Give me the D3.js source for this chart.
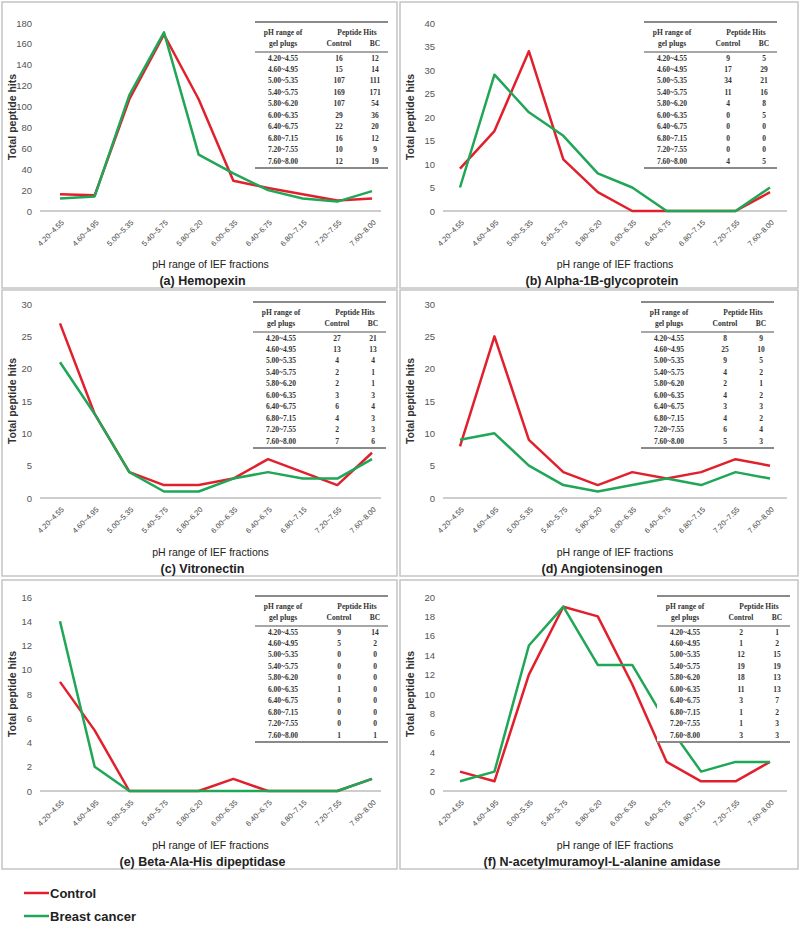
<!DOCTYPE html>
<html><head><meta charset="utf-8">
<script src="https://cdn.jsdelivr.net/npm/d3@7"></script>
<style>body{margin:0;background:#fff}svg{display:block}</style>
</head><body>
<svg id="c" width="800" height="925"></svg>
<script>
const fractions = ["4.20~4.55","4.60~4.95","5.00~5.35","5.40~5.75","5.80~6.20","6.00~6.35","6.40~6.75","6.80~7.15","7.20~7.55","7.60~8.00"];
const panelTitles = ["(a)  Hemopexin","(b)  Alpha-1B-glycoprotein","(c)  Vitronectin","(d)  Angiotensinogen","(e)  Beta-Ala-His dipeptidase","(f)  N-acetylmuramoyl-L-alanine amidase"];
const controlA = [16,15,107,169,107,29,22,16,10,12];
const bcA      = [12,14,111,171,54,36,20,12,9,19];
const controlB = [9,17,34,11,4,0,0,0,0,4];
const bcB      = [5,29,21,16,8,5,0,0,0,5];
const controlC = [27,13,4,2,2,3,6,4,2,7];
const bcC      = [21,13,4,1,1,3,4,3,3,6];
const controlD = [8,25,9,4,2,4,3,4,6,5];
const bcD      = [9,10,5,2,1,2,3,2,4,3];
const controlE = [9,5,0,0,0,1,0,0,0,1];
const bcE      = [14,2,0,0,0,0,0,0,0,1];
const controlF = [2,1,12,19,18,11,3,1,1,3];
const bcF      = [1,2,15,19,13,13,7,2,3,3];
const yMaxes  = [180,40,30,30,16,20];
const ySteps  = [20,5,5,5,2,2];
const seriesNames = ["Control","Breast cancer"];
const tableHeaders = ["pH range of","gel plugs","Peptide Hits","Control","BC"];
const yAxisTitle = "Total peptide hits";
const xAxisTitle = "pH range of IEF fractions";

const controls = [controlA,controlB,controlC,controlD,controlE,controlF];
const bcs = [bcA,bcB,bcC,bcD,bcE,bcF];
const RED = "#e1202d", GREEN = "#1fa657";

const rows = [
  {top:2, bottom:288, plotTop:23, plotBottom:211, tableTop:22},
  {top:290, bottom:576, plotTop:304, plotBottom:498, tableTop:302},
  {top:580, bottom:869, plotTop:597, plotBottom:791, tableTop:596}
];
const cols = [
  {left:2, right:397, axisL:40, axisR:381, p0:60, p1:372},
  {left:400, right:798, axisL:443, axisR:787, p0:460, p1:770}
];
const tableLefts = [255,644,253,641,255,657];

const svg = d3.select("#c");

for (let i = 0; i < 6; i++) {
  const r = rows[Math.floor(i/2)], c = cols[i%2];
  const g = svg.append("g");
  g.append("rect").attr("x",c.left).attr("y",r.top).attr("width",c.right-c.left).attr("height",r.bottom-r.top)
    .attr("fill","#fff").attr("stroke","#c4c4c4").attr("stroke-width",1.5);

  const x = d3.scalePoint().domain(fractions).range([c.p0,c.p1]);
  const y = d3.scaleLinear().domain([0,yMaxes[i]]).range([r.plotBottom,r.plotTop]);

  const ya = d3.axisLeft(y).tickValues(d3.range(0,yMaxes[i]+0.001,ySteps[i])).tickSize(0).tickPadding(8);
  const yg = g.append("g").attr("transform",`translate(${c.axisL},0)`).call(ya);
  yg.select(".domain").remove();
  yg.selectAll("text").attr("font-family","Liberation Sans, Arial").attr("font-size",9.5).attr("fill","#555");

  const xa = d3.axisBottom(x).tickSize(0).tickPadding(0);
  const xg = g.append("g").attr("transform",`translate(0,${r.plotBottom})`).call(xa);
  xg.select(".domain").remove();
  g.append("line").attr("x1",c.axisL).attr("x2",c.axisR).attr("y1",r.plotBottom).attr("y2",r.plotBottom)
    .attr("stroke","#bdbdbd").attr("stroke-width",1.5);
  xg.selectAll("text").attr("font-family","Liberation Sans, Arial").attr("font-size",7.5).attr("fill","#444")
    .attr("text-anchor","end").attr("dy",0)
    .attr("transform","translate(4,12) rotate(-45)");

  g.append("text").attr("transform",`translate(${c.left+11},${(r.plotTop+r.plotBottom)/2}) rotate(-90)`)
    .attr("text-anchor","middle").attr("dominant-baseline","middle")
    .attr("font-family","Liberation Sans, Arial").attr("font-weight","bold").attr("font-size",10.5).attr("fill","#333")
    .text(yAxisTitle);
  g.append("text").attr("x",(c.axisL+c.axisR)/2).attr("y",r.bottom-20)
    .attr("text-anchor","middle").attr("font-family","Liberation Sans, Arial").attr("font-size",10.5).attr("fill","#222")
    .text(xAxisTitle);
  g.append("text").attr("x",(c.left+c.right)/2+3).attr("y",r.bottom-3)
    .attr("text-anchor","middle").attr("font-family","Liberation Sans, Arial").attr("font-weight","bold").attr("font-size",12.5).attr("fill","#222")
    .text(panelTitles[i]);

  const line = d3.line().x((d,k)=>x(fractions[k])).y(d=>y(d));
  g.append("path").datum(controls[i]).attr("d",line).attr("fill","none").attr("stroke",RED).attr("stroke-width",2.5).attr("stroke-linejoin","round");
  g.append("path").datum(bcs[i]).attr("d",line).attr("fill","none").attr("stroke",GREEN).attr("stroke-width",2.5).attr("stroke-linejoin","round");

  const tl = tableLefts[i], tt = r.tableTop, tw = 133;
  const tg = g.append("g").attr("font-family","Liberation Serif, Times New Roman").attr("font-weight","bold").attr("font-size",7.5).attr("fill","#333").attr("text-anchor","middle");
  tg.append("rect").attr("x",tl).attr("y",tt).attr("width",tw).attr("height",146).attr("fill","#fff");
  [[0,2],[30,1.5],[146,2]].forEach(([dy,w])=>{
    tg.append("line").attr("x1",tl).attr("x2",tl+tw).attr("y1",tt+dy).attr("y2",tt+dy).attr("stroke","#8a8a8a").attr("stroke-width",w);
  });
  tg.append("text").attr("x",tl+28).attr("y",tt+13).text(tableHeaders[0]);
  tg.append("text").attr("x",tl+28).attr("y",tt+24).text(tableHeaders[1]);
  tg.append("text").attr("x",tl+102).attr("y",tt+13).text(tableHeaders[2]);
  tg.append("text").attr("x",tl+84).attr("y",tt+24).text(tableHeaders[3]);
  tg.append("text").attr("x",tl+120).attr("y",tt+24).text(tableHeaders[4]);
  const rowY = d3.scalePoint().domain(fractions).range([tt+38.5, tt+141.5]);
  fractions.forEach((f,k)=>{
    tg.append("text").attr("x",tl+28).attr("y",rowY(f)).text(f);
    tg.append("text").attr("x",tl+84).attr("y",rowY(f)).text(controls[i][k]);
    tg.append("text").attr("x",tl+120).attr("y",rowY(f)).text(bcs[i][k]);
  });
}

const leg = svg.append("g").attr("font-family","Liberation Sans, Arial").attr("font-weight","bold").attr("font-size",13).attr("fill","#222");
[[RED,893],[GREEN,916]].forEach(([col,yy],k)=>{
  leg.append("line").attr("x1",24).attr("x2",49).attr("y1",yy).attr("y2",yy).attr("stroke",col).attr("stroke-width",2.5);
  leg.append("text").attr("x",50).attr("y",yy+4.5).text(seriesNames[k]);
});
</script>
</body></html>
